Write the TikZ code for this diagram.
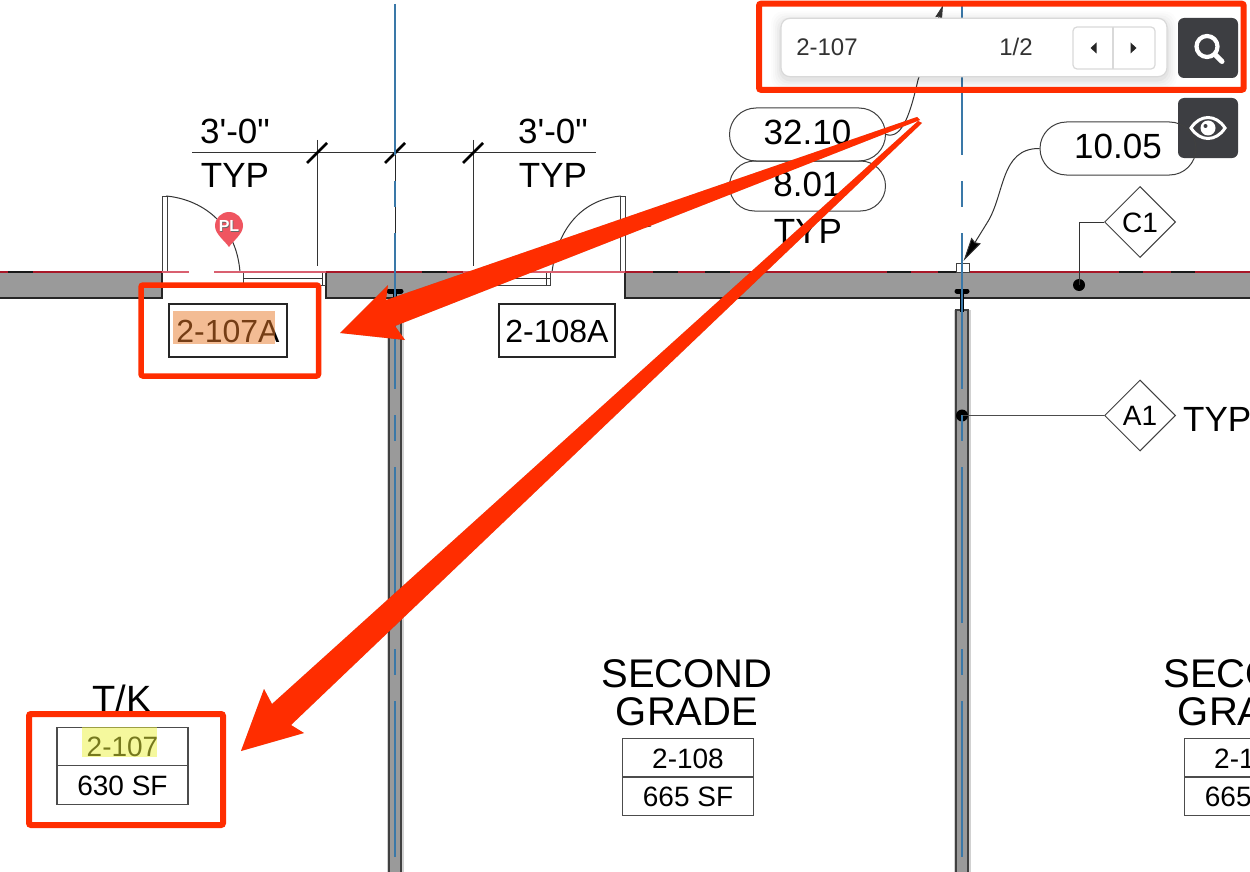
\documentclass[tikz,border=0pt]{standalone}
\usepackage{fontspec}
\setmainfont{Liberation Sans}
\newfontfamily\plainf{Liberation Sans}
\usetikzlibrary{shapes.geometric,shapes.misc,arrows.meta,calc}
\definecolor{wallgrey}{HTML}{9A9A9A}
\definecolor{redbox}{HTML}{FF2D00}
\definecolor{bluedash}{HTML}{3A78A8}
\definecolor{redline}{HTML}{A81828}
\definecolor{redlight}{HTML}{D96070}
\definecolor{btn}{HTML}{3D3E42}
\definecolor{pincol}{HTML}{EF5560}
\definecolor{hlorange}{HTML}{E97B2B}
\definecolor{hlyellow}{HTML}{EDF33D}
\tikzset{
  fs/.style={font=\fontsize{#1}{#1}\selectfont},
  txt/.style={fs=#1,inner sep=0pt,anchor=base,text=black},
  thin line/.style={draw=black!80,line width=1pt},
  wallfill/.style={fill=wallgrey,draw=none},
  walledge/.style={draw=black!85,line width=1.8pt},
  tagbox/.style={draw=black!85,line width=1.4pt,fs=32,inner sep=0pt,text height=23pt,text depth=0pt,text=black},
  cell/.style={draw=black!70,line width=1.2pt,fs=28,inner sep=0pt,text height=20pt,text depth=0pt,minimum width=131pt,minimum height=38.5pt,text=black},
  pill/.style={rounded rectangle,draw=black!75,line width=1pt,fs=35,inner sep=0pt,text height=25pt,text depth=5pt,minimum width=156pt,text=black},
  tagdiamond/.style={diamond,draw=black!75,line width=1pt,fs=28,inner sep=0pt,aspect=1,minimum width=71pt,minimum height=71pt,text height=20pt,text depth=0pt,text=black},
  redframe/.style={draw=redbox,line width=#1,rounded corners=2pt},
  redarrow/.style={fill=redbox,draw=none},
  arrowshadow/.style={fill=black,opacity=.22,draw=none},
  bluecentre/.style={draw=bluedash,line width=1.8pt,dash pattern=on 156pt off 26pt on 26pt off 26pt,dash phase=5pt},
  vwall/.style={fill=wallgrey,draw=black!75,line width=2.4pt},
  tbar/.style={draw=black,line width=5pt,line cap=round},
  dotblack/.style={circle,fill=black,inner sep=0pt,minimum size=12pt},
  dimtick/.style={draw=black,line width=2.6pt},
  doorframe/.style={draw=black!75,line width=1pt,fill=white},
  hl/.style={opacity=.5},
  uibtn/.style={fill=btn,draw=none,rounded corners=6pt},
}
\begin{document}
\begin{tikzpicture}[x=1pt,y=-1pt]
\useasboundingbox (0,0) rectangle (1250,872);
\fill[white] (0,0) rectangle (1250,872);

% --- horizontal wall
\path[wallfill] (-1,272) rectangle (162,298);
\path[wallfill] (326,272) rectangle (463,298);
\path[wallfill] (625,272) rectangle (1251,298);
\draw[walledge] (-1,298) -- (162,298) -- (162,272);
\draw[walledge] (463,298) -- (326,298) -- (326,272);
\draw[walledge] (625,272) -- (625,298) -- (1251,298);

% --- vertical walls
\draw[white!82!black,line width=17pt] (395,310) -- (395,873);
\draw[white!82!black,line width=17pt] (962,310) -- (962,873);
\path[vwall] (389,310) rectangle (401,874);
\path[vwall] (956,310) rectangle (968,874);

% --- doors and windows
\path[doorframe] (162,196) rectangle (167,272);
\path[doorframe] (620,196) rectangle (625,272);
\draw[thin line] (166,196) .. controls (200,199) and (236,222) .. (240,272);
\draw[thin line] (621,196) .. controls (585,199) and (558,225) .. (552,272);
\draw[thin line] (625,230) -- (651,226);
\path[doorframe] (243,272) rectangle (325,285);
\draw[thin line] (243,278.5) -- (322,278.5) (322,272) -- (322,285);
\path[doorframe] (463,272) rectangle (550,285);
\draw[thin line] (467,278.5) -- (550,278.5) (546,272) -- (546,285);

% --- datum line
\draw[redlight,line width=1.4pt] (162,272) -- (189,272) (214,272) -- (326,272) (463,272) -- (625,272);
\draw[redline,line width=2pt] (-1,272) -- (162,272) (326,272) -- (463,272) (625,272) -- (1251,272);
\foreach \a/\b in {8/33,422/447,653/678,705/730,887/911,938/956,1119/1143,1171/1195}{
  \draw[black!90,line width=2pt] (\a,272) -- (\b,272);
}

% --- dimension string
\draw[thin line] (192,153) -- (596,153);
\draw[thin line] (317,140) -- (317,266);
\draw[thin line] (473,140) -- (473,266);
\draw[black!85,line width=1pt] (395,153) -- (395,272);
\draw[dimtick] (307,163) -- (327,143);
\draw[dimtick] (385,163) -- (405,143);
\draw[dimtick] (463,163) -- (483,143);
\node[txt=35,font=\plainf\fontsize{35}{35}\selectfont] (dimL) at (235,144) {3'-0"};
\node[txt=35] (typL) at (235,187) {TYP};
\node[txt=35,font=\plainf\fontsize{35}{35}\selectfont] (dimR) at (553,144) {3'-0"};
\node[txt=35] (typR) at (553,187) {TYP};

% --- column symbols
\draw[black!75,line width=1pt,fill=white] (956,263) rectangle (969,272);
\draw[tbar] (389,291) -- (401,291);
\draw[tbar] (957,291) -- (967,291);
\draw[black,line width=4pt] (395,291) -- (395,310);
\draw[black,line width=4pt] (962,291) -- (962,312);

% --- blue centre lines
\draw[bluecentre] (395,4) -- (395,872);
\draw[bluecentre] (962,4) -- (962,872);
\draw[bluecentre,dash pattern=on 50pt] (962,262) -- (962,312);

% --- UI eye button sits beneath the drawing's pill
\path[uibtn] (1178,98) rectangle (1238,158);
\draw[white,line width=3pt] (1191,128) .. controls (1200,114) and (1216,114) .. (1225,128) .. controls (1216,142) and (1200,142) .. (1191,128) -- cycle;
\fill[white] (1208,128) circle (7.5pt);
\fill[btn] (1205.5,126) circle (2pt);

% --- pills and diamonds
\node[pill,minimum height=53pt] (p3210) at (807.5,134.5) {32.10};
\node[pill,minimum height=50pt] (p801) at (807.5,186) {8.01};
\node[pill,minimum height=53pt] (p1005) at (1118,148.5) {10.05};
\node[txt=35] (typM) at (808,243) {TYP};
\node[tagdiamond] (c1) at (1140,222) {C1};
\node[tagdiamond] (a1) at (1140,415.5) {A1};
\node[txt=35,anchor=base west] (typA) at (1183,431) {TYP};
\node[dotblack] (c1dot) at (1079,285) {};
\node[dotblack] (a1dot) at (962,415.5) {};
\draw[thin line] (c1.west) -| (c1dot.center);
\draw[black!70,line width=1.4pt] (a1.west) -- (a1dot.center);
\draw[bluecentre,dash pattern=on 12pt] (962,415) -- (962,427);

% --- leaders
\coordinate (leadA) at (943,5);
\coordinate (leadB) at (963.5,261);
\draw[thin line,-{Stealth[length=14pt,width=7pt,inset=2pt]}] (p3210.east) .. controls (903,140) and (911,110) .. (918,80) -- (leadA);
\draw[thin line,-{Stealth[length=24pt,width=11pt,inset=2pt,fill=black]}] (p1005.west) .. controls (1000,148) and (1005,195) .. (987,223) -- (leadB);

% --- room tags
\node[tagbox,minimum width=118pt,minimum height=53pt] (tagA) at (228,330.5) {2-107A};
\node[tagbox,minimum width=116pt,minimum height=53pt] (tagB) at (557,330.5) {2-108A};

\node[txt=38] (tk) at (122,712) {T/K};
\node[cell] (t1a) at (122.5,746.5) {2-107};
\node[cell] (t1b) at (122.5,785) {630 SF};
\node[txt=40] (sg1) at (687,687) {SECOND};
\node[txt=40] (sg2) at (687,725) {GRADE};
\node[cell] (t2a) at (688,758) {2-108};
\node[cell] (t2b) at (688,796) {665 SF};
\begin{scope}
\clip (0,0) rectangle (1250,872);
\node[txt=40] (sg3) at (1249,687) {SECOND};
\node[txt=40] (sg4) at (1249,725) {GRADE};
\node[cell] (t3a) at (1250,758) {2-108};
\node[cell] (t3b) at (1250,796) {665 SF};
\end{scope}

% --- highlights
\fill[hlorange,hl] (173,311) rectangle (275,344);
\fill[hlyellow,hl] (82,727) rectangle (157,757);

% --- PL pin
\fill[pincol] (229,247) .. controls (225,241) and (215,234) .. (215,226) arc[start angle=180,end angle=0,radius=14pt] .. controls (243,234) and (233,241) .. (229,247) -- cycle;
\node[font=\bfseries\fontsize{16}{16}\selectfont,text=black!60,inner sep=0pt] (plshadow) at (229.6,226.6) {PL};
\node[font=\bfseries\fontsize{16}{16}\selectfont,text=white,inner sep=0pt] (pl) at (229,226) {PL};

% --- red arrows
\coordinate (a1t) at (917,117);
\coordinate (a1s) at (386,300);
\coordinate (a1b) at (388,285);
\coordinate (a1h) at (340,333);
\coordinate (a1c) at (405,340);
\coordinate (a1d) at (395,326);
\coordinate (a1e) at (920,120);
\coordinate (a2t) at (922,123);
\coordinate (a2s) at (272,704);
\coordinate (a2b) at (264,689);
\coordinate (a2h) at (241,751);
\coordinate (a2c) at (304,733);
\coordinate (a2d) at (291,725);
\coordinate (a2e) at (918,121);
\path[arrowshadow,xshift=1pt,yshift=-1.5pt] (a1t) -- (a1s) -- (a1b) -- (a1h) -- (a1c) -- (a1d) -- (a1e) -- cycle;
\path[arrowshadow,xshift=1pt,yshift=-1.5pt] (a2t) -- (a2d) -- (a2c) -- (a2h) -- (a2b) -- (a2s) -- (a2e) -- cycle;
\path[redarrow] (a1t) -- (a1s) -- (a1b) -- (a1h) -- (a1c) -- (a1d) -- (a1e) -- cycle;
\path[redarrow] (a2t) -- (a2d) -- (a2c) -- (a2h) -- (a2b) -- (a2s) -- (a2e) -- cycle;

% --- search panel
\foreach \s/\o in {10/.012,8/.016,6/.02,4/.025,2/.03}{
  \fill[black,opacity=\o,rounded corners=12pt] (781-\s,18.3-\s+3) rectangle (1167+\s,76.7+\s+3);
}
\draw[black!15,line width=1.2pt,fill=white,rounded corners=9pt] (781,18.3) rectangle (1167,76.7);
\node[fs=24,inner sep=0pt,anchor=base,text=black!80] (q) at (827,56) {2-107};
\node[fs=24,inner sep=0pt,anchor=base,text=black!80] (cnt) at (1016,56) {1/2};
\draw[black!15,line width=1.2pt,rounded corners=4pt] (1073,27) rectangle (1155,69);
\draw[black!15,line width=1.2pt] (1113,27) -- (1113,69);
\fill[black!85] (1090.5,48) -- (1096.5,42.5) -- (1096.5,53.5) -- cycle;
\fill[black!85] (1136.5,48) -- (1130.5,42.5) -- (1130.5,53.5) -- cycle;
\path[uibtn] (1178,18) rectangle (1238,78);
\draw[white,line width=4.2pt] (1207,46.5) circle (10.5pt);
\draw[white,line width=5pt,line cap=round] (1215,54.5) -- (1222,61.5);

% --- red frames
\draw[redframe=6pt] (759,3.7) rectangle (1243.7,89.8);
\draw[redframe=5.5pt] (141,285) rectangle (318.5,376);
\draw[redframe=6pt] (29,714) rectangle (223,825);
\end{tikzpicture}
\end{document}
